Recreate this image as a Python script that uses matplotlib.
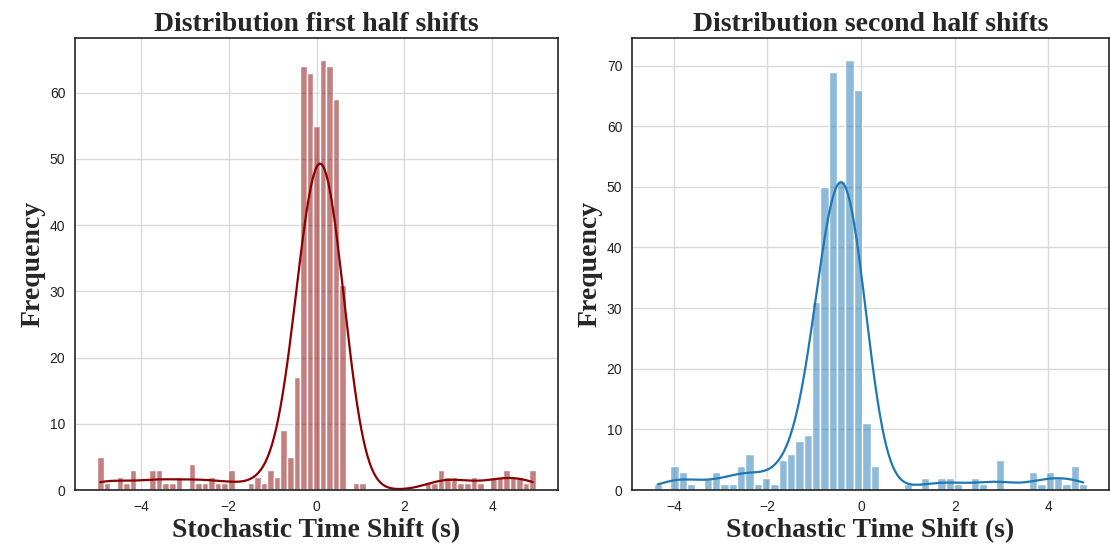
import numpy as np
import matplotlib
matplotlib.use("Agg")
import matplotlib.pyplot as plt
import seaborn as sns

# histogram counts per bin for each half
first_lo, first_hi = -5.0, 5.0
first_counts = [5, 1, 0, 2, 1, 3, 0, 0, 3, 3, 1, 1, 2, 0, 4, 1, 1, 2, 1, 1,
                3, 0, 0, 1, 2, 1, 3, 2, 9, 5, 17, 64, 63, 55, 65, 64, 59, 31, 0, 1,
                1, 0, 0, 0, 0, 0, 0, 0, 0, 0, 1, 1, 3, 2, 2, 1, 1, 2, 1, 0,
                2, 2, 3, 2, 2, 1, 3]

second_lo, second_hi = -4.43, 4.83
second_counts = [1, 0, 4, 3, 1, 0, 2, 3, 1, 1, 4, 6, 1, 2, 1, 5, 6, 8, 9, 31,
                 50, 69, 51, 71, 66, 11, 4, 0, 0, 0, 1, 0, 2, 0, 2, 2, 1, 0, 2, 1,
                 0, 5, 0, 0, 0, 3, 1, 3, 2, 1, 4, 1]

titles = ["Distribution first half shifts", "Distribution second half shifts"]
colors = ["darkred", "tab:blue"]

sns.set_style("whitegrid")
plt.rcParams["font.family"] = ["Liberation Sans", "DejaVu Sans"]


def samples_from_counts(counts, lo, hi):
    edges = np.linspace(lo, hi, len(counts) + 1)
    centers = (edges[:-1] + edges[1:]) / 2
    return np.repeat(centers, counts), edges


fig = plt.figure(figsize=(11.1, 5.44), dpi=100)
ax1 = fig.add_axes([75 / 1110, 54 / 544, 483 / 1110, 452 / 544])
ax2 = fig.add_axes([632 / 1110, 54 / 544, 477 / 1110, 452 / 544])

label_font = {"family": "Liberation Serif", "fontweight": "bold", "fontsize": 20}

data = [(first_counts, first_lo, first_hi), (second_counts, second_lo, second_hi)]
for ax, (counts, lo, hi), title, color in zip([ax1, ax2], data, titles, colors):
    values, edges = samples_from_counts(counts, lo, hi)
    sns.histplot(values, bins=edges, kde=True, color=color, alpha=0.5,
                 edgecolor="white", linewidth=1, ax=ax,
                 line_kws={"linewidth": 1.6})
    ax.set_title(title, pad=5, **label_font)
    ax.set_xlabel("Stochastic Time Shift (s)", labelpad=3, **label_font)
    ax.set_ylabel("Frequency", labelpad=3, **label_font)
    ax.tick_params(labelsize=10, colors="#222222")
    for spine in ax.spines.values():
        spine.set_color("#222222")
        spine.set_linewidth(1.2)
    ax.grid(color="#d9d9d9", linewidth=1)

fig.savefig("out.png", dpi=100)
